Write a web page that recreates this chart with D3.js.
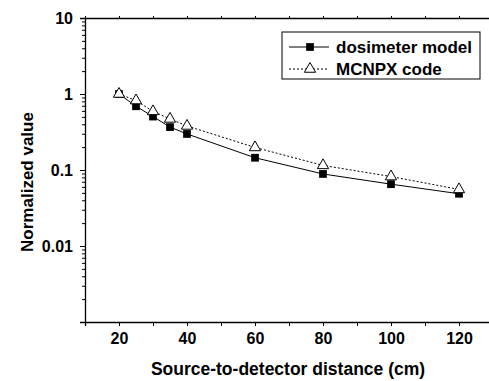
<!DOCTYPE html>
<html>
<head>
<meta charset="utf-8">
<script src="https://cdn.jsdelivr.net/npm/d3@7"></script>
<style>
    body { margin: 0; background: #fff; }
    svg { display: block; font-family: "Liberation Sans", Arial, sans-serif; font-weight: bold; }
</style>
</head>
<body>
<div id="chart"></div>
<script>
'use strict'

const distances = [20, 25, 30, 35, 40, 60, 80, 100, 120];
const dosimeterModel = [1.0, 0.69, 0.505, 0.367, 0.298, 0.145, 0.0887, 0.0651, 0.0487];
const mcnpxCode = [1.0, 0.82, 0.59, 0.47, 0.38, 0.198, 0.115, 0.082, 0.0555];
const xTicks = [20, 40, 60, 80, 100, 120];
const yTicks = [10, 1, 0.1, 0.01];
const yTickLabels = ["10", "1", "0.1", "0.01"];

const width = 489;
const height = 381;
const margin = { top: 18, left: 85, bottom: 59 };
const plotH = height - margin.top - margin.bottom;

const svg = d3.select("#chart")
    .append("svg")
    .attr("width", width)
    .attr("height", height);

const x = d3.scaleLinear().domain([10, 130]).range([margin.left, margin.left + 408]);
const y = d3.scaleLog().domain([0.001, 10]).range([margin.top + plotH, margin.top]);

// minor ticks on log axis
const yMinor = [];
[0.001, 0.01, 0.1, 1].forEach(d => {
    for (let k = 2; k <= 9; k++) yMinor.push(d * k);
});

// Left axis
const left = svg.append("g").attr("transform", `translate(${margin.left},0)`);
left.call(d3.axisLeft(y).tickValues(yTicks).tickFormat((d, i) => yTickLabels[i]).tickSize(5).tickPadding(7))
    .call(g => g.selectAll("text").style("font-size", "16px").attr("fill", "#000"));
left.append("g").call(d3.axisLeft(y).tickValues(yMinor).tickFormat("").tickSize(3))
    .call(g => g.select(".domain").remove());

// Bottom axis
const bottom = svg.append("g").attr("transform", `translate(0,${margin.top + plotH})`);
bottom.call(d3.axisBottom(x).tickValues(xTicks).tickFormat(d3.format("d")).tickSize(4).tickPadding(7))
    .call(g => g.selectAll("text").style("font-size", "16px").attr("fill", "#000"));
bottom.append("g").call(d3.axisBottom(x).tickValues([10, 30, 50, 70, 90, 110, 130]).tickFormat("").tickSize(4))
    .call(g => g.select(".domain").remove());

// Top axis (mirror)
svg.append("g").attr("transform", `translate(0,${margin.top})`)
    .call(d3.axisTop(x).tickValues(d3.range(10, 131, 10)).tickFormat("").tickSize(2).tickSizeOuter(0));

svg.selectAll(".domain").attr("stroke-width", 1.3);

// Lines
const line = d3.line().x((d, i) => x(distances[i])).y(d => y(d));

svg.append("path")
    .datum(dosimeterModel)
    .attr("d", line)
    .attr("fill", "none")
    .attr("stroke", "#000")
    .attr("stroke-width", 1);

svg.append("path")
    .datum(mcnpxCode)
    .attr("d", line)
    .attr("fill", "none")
    .attr("stroke", "#000")
    .attr("stroke-width", 1)
    .attr("stroke-dasharray", "2,2");

const square = d3.symbol().type(d3.symbolSquare).size(60);
const triangle = d3.symbol().type(d3.symbolTriangle).size(55);

svg.selectAll(".sq")
    .data(dosimeterModel)
    .enter().append("path")
    .attr("d", square)
    .attr("transform", (d, i) => `translate(${x(distances[i])},${y(d)})`)
    .attr("fill", "#000");

svg.selectAll(".tri")
    .data(mcnpxCode)
    .enter().append("path")
    .attr("d", triangle)
    .attr("transform", (d, i) => `translate(${x(distances[i])},${y(d)})`)
    .attr("fill", "#fff")
    .attr("stroke", "#000")
    .attr("stroke-width", 1);

// Axis titles
svg.append("text")
    .attr("x", 288)
    .attr("y", 375)
    .attr("text-anchor", "middle")
    .style("font-size", "17.5px")
    .text("Source-to-detector distance (cm)");

svg.append("text")
    .attr("transform", `translate(33,182) rotate(-90)`)
    .attr("text-anchor", "middle")
    .style("font-size", "17px")
    .text("Normalized value");

// Legend
const legend = svg.append("g").attr("transform", "translate(282,32)");
legend.append("rect")
    .attr("width", 198)
    .attr("height", 47)
    .attr("fill", "#fff")
    .attr("stroke", "#000")
    .attr("stroke-width", 1);

const legendItems = [
    { name: "dosimeter model", dash: null, sym: square, fill: "#000" },
    { name: "MCNPX code", dash: "2,2", sym: triangle, fill: "#fff" }
];

legendItems.forEach((item, i) => {
    const ly = 15 + i * 22;
    legend.append("line")
        .attr("x1", 7).attr("x2", 47)
        .attr("y1", ly).attr("y2", ly)
        .attr("stroke", "#000")
        .attr("stroke-dasharray", item.dash);
    legend.append("path")
        .attr("d", item.sym)
        .attr("transform", `translate(28,${ly})`)
        .attr("fill", item.fill)
        .attr("stroke", item.fill === "#fff" ? "#000" : "none");
    legend.append("text")
        .attr("x", 54)
        .attr("y", ly + 6)
        .style("font-size", "17px")
        .text(item.name);
});
</script>
</body>
</html>
